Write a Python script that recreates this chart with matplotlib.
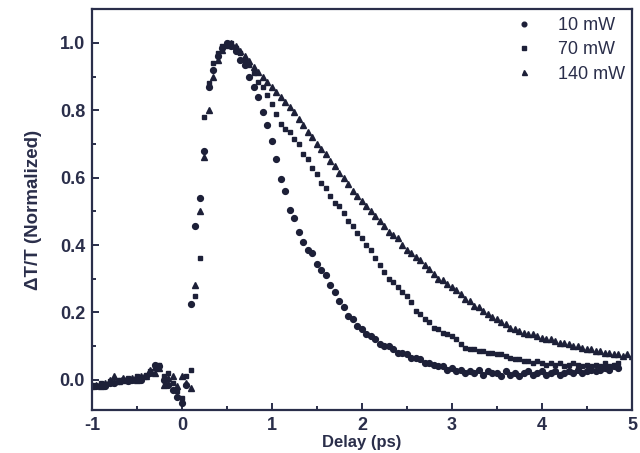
import numpy as np
import matplotlib
matplotlib.use("Agg")
import matplotlib.pyplot as plt
from matplotlib.ticker import MultipleLocator

nan = np.nan

delay_ps = [
    -1.00, -0.95, -0.90, -0.85, -0.80, -0.75, -0.70, -0.65, -0.60, -0.55,
    -0.50, -0.45, -0.40, -0.35, -0.30, -0.25, -0.20, -0.15, -0.10, -0.05,
    0.00,
    0.05, 0.10, 0.15, 0.20, 0.25, 0.30, 0.35, 0.40, 0.45, 0.50,
    0.55, 0.60, 0.65, 0.70, 0.75, 0.80, 0.85, 0.90, 0.95, 1.00,
    1.05, 1.10, 1.15, 1.20, 1.25, 1.30, 1.35, 1.40, 1.45, 1.50,
    1.55, 1.60, 1.65, 1.70, 1.75, 1.80, 1.85, 1.90, 1.95, 2.00,
    2.05, 2.10, 2.15, 2.20, 2.25, 2.30, 2.35, 2.40, 2.45, 2.50,
    2.55, 2.60, 2.65, 2.70, 2.75, 2.80, 2.85, 2.90, 2.95, 3.00,
    3.05, 3.10, 3.15, 3.20, 3.25, 3.30, 3.35, 3.40, 3.45, 3.50,
    3.55, 3.60, 3.65, 3.70, 3.75, 3.80, 3.85, 3.90, 3.95, 4.00,
    4.05, 4.10, 4.15, 4.20, 4.25, 4.30, 4.35, 4.40, 4.45, 4.50,
    4.55, 4.60, 4.65, 4.70, 4.75, 4.80, 4.85, 4.90, 4.95, 5.00,
]

p10mW = [
    -0.02, -0.02, -0.015, -0.02, -0.01, -0.01, -0.005, 0.0, -0.005, 0.0,
    0.005, 0.0, 0.01, 0.02, 0.045, 0.04, 0.0, -0.015, -0.03, -0.05,
    -0.07,
    -0.015, 0.225, 0.455, 0.54, 0.68, 0.87, 0.92, 0.96, 0.985, 1.0,
    0.99, 0.975, 0.95, 0.935, 0.90, 0.87, 0.84, 0.795, 0.755, 0.71,
    0.655, 0.595, 0.56, 0.505, 0.48, 0.44, 0.41, 0.385, 0.375, 0.345,
    0.325, 0.31, 0.28, 0.26, 0.235, 0.215, 0.19, 0.18, 0.16, 0.15,
    0.135, 0.13, 0.12, 0.105, 0.10, 0.10, 0.09, 0.08, 0.08, 0.075,
    0.065, 0.065, 0.06, 0.05, 0.05, 0.045, 0.04, 0.04, 0.03, 0.035,
    0.025, 0.03, 0.02, 0.025, 0.02, 0.03, 0.015, 0.025, 0.02, 0.02,
    0.01, 0.025, 0.015, 0.02, 0.01, 0.02, 0.025, 0.015, 0.02, 0.025,
    0.015, 0.02, 0.025, 0.015, 0.02, 0.025, 0.02, 0.03, 0.02, 0.025,
    0.03, 0.025, 0.03, 0.035, 0.03, 0.04, 0.035, nan, nan, nan,
]

p70mW = [
    -0.015, -0.02, -0.01, -0.015, -0.005, -0.01, 0.0, -0.005, 0.005, 0.0,
    0.01, 0.005, 0.015, 0.025, 0.035, 0.045, 0.01, 0.02, -0.01, -0.035,
    -0.055,
    0.01, 0.03, 0.25, 0.36, 0.78, 0.88, 0.94, 0.97, 0.99, 1.0,
    1.0, 0.985, 0.97, 0.95, 0.935, 0.91, 0.885, 0.87, 0.845, 0.82,
    0.79, 0.76, 0.745, 0.735, 0.715, 0.70, 0.67, 0.655, 0.63, 0.61,
    0.585, 0.57, 0.545, 0.525, 0.515, 0.495, 0.47, 0.455, 0.435, 0.42,
    0.40, 0.385, 0.36, 0.34, 0.32, 0.30, 0.29, 0.275, 0.26, 0.25,
    0.23, 0.205, 0.195, 0.18, 0.17, 0.155, 0.15, 0.14, 0.135, 0.13,
    0.12, 0.105, 0.095, 0.09, 0.09, 0.085, 0.085, 0.08, 0.08, 0.075,
    0.075, 0.07, 0.065, 0.06, 0.06, 0.055, 0.055, 0.05, 0.055, 0.05,
    0.045, 0.05, 0.045, 0.05, 0.04, 0.045, 0.05, 0.045, 0.04, 0.045,
    0.04, 0.045, 0.04, 0.05, 0.04, 0.045, 0.05, nan, nan, nan,
]

p140mW = [
    -0.02, -0.015, -0.02, -0.01, 0.0, 0.01, -0.005, 0.005, 0.0, 0.005,
    0.0, 0.01, 0.01, 0.03, 0.02, 0.035, -0.015, 0.005, 0.01, -0.02,
    0.01,
    -0.01, -0.025, 0.28, 0.50, 0.66, 0.80, 0.90, 0.95, 0.98, 0.995,
    1.0, 0.99, 0.975, 0.96, 0.945, 0.93, 0.915, 0.90, 0.885, 0.87,
    0.855, 0.84, 0.825, 0.81, 0.795, 0.775, 0.755, 0.735, 0.72, 0.70,
    0.685, 0.67, 0.65, 0.635, 0.615, 0.60, 0.58, 0.56, 0.545, 0.53,
    0.515, 0.50, 0.485, 0.47, 0.455, 0.44, 0.43, 0.42, 0.40, 0.385,
    0.375, 0.365, 0.355, 0.34, 0.33, 0.315, 0.30, 0.295, 0.285, 0.275,
    0.265, 0.255, 0.24, 0.235, 0.22, 0.215, 0.205, 0.195, 0.185, 0.18,
    0.17, 0.165, 0.155, 0.15, 0.145, 0.14, 0.135, 0.135, 0.13, 0.125,
    0.12, 0.12, 0.115, 0.11, 0.11, 0.105, 0.10, 0.10, 0.095, 0.09,
    0.09, 0.085, 0.085, 0.08, 0.08, 0.075, 0.075, 0.07, 0.075, 0.07,
]

series_labels = ["10 mW", "70 mW", "140 mW"]
x_ticks = [-1, 0, 1, 2, 3, 4, 5]
y_ticks = [0.0, 0.2, 0.4, 0.6, 0.8, 1.0]

plt.rcParams["font.family"] = ["Liberation Sans", "DejaVu Sans"]

ink = "#1d2038"
frame = "#2a2e4a"
fig = plt.figure(figsize=(6.4, 4.53), dpi=100)
ax = fig.add_axes([0.1437, 0.0949, 0.8438, 0.8846])

ax.plot(delay_ps, p10mW, linestyle="none", marker="o", markersize=4.2,
        color=ink, label=series_labels[0])
ax.plot(delay_ps, p70mW, linestyle="none", marker="s", markersize=3.4,
        color=ink, label=series_labels[1])
ax.plot(delay_ps, p140mW, linestyle="none", marker="^", markersize=4.5,
        color=ink, label=series_labels[2])

ax.set_xlim(-1, 5)
ax.set_ylim(-0.09, 1.10)
ax.set_xticks(x_ticks)
ax.set_xticklabels([str(t) for t in x_ticks])
ax.set_yticks(y_ticks)
ax.set_yticklabels([f"{t:.1f}" for t in y_ticks])
ax.xaxis.set_minor_locator(MultipleLocator(0.5))
ax.yaxis.set_minor_locator(MultipleLocator(0.1))
ax.tick_params(which="both", direction="in", top=False, right=False,
               color=frame, width=1.4)
ax.tick_params(which="major", length=5, pad=5, labelsize=13)
ax.tick_params(axis="x", which="major", pad=5)
ax.tick_params(which="minor", length=3)
for lab in ax.get_xticklabels() + ax.get_yticklabels():
    lab.set_fontweight("bold")
    lab.set_color(frame)
for s in ax.spines.values():
    s.set_linewidth(1.6)
    s.set_color(frame)

ax.set_xlabel("Delay (ps)", fontsize=12, fontweight="bold",
              color=frame, labelpad=1)
ax.set_ylabel("ΔT/T (Normalized)", fontsize=13.5, fontweight="bold",
              color=frame, labelpad=13)

leg = ax.legend(loc="upper right", bbox_to_anchor=(1.01, 1.012), frameon=False,
                fontsize=13, handletextpad=1.35, labelspacing=0.4,
                borderaxespad=0.3, handlelength=1.0, markerscale=0.8)
for t in leg.get_texts():
    t.set_color(frame)

fig.savefig("out.png", dpi=100)
